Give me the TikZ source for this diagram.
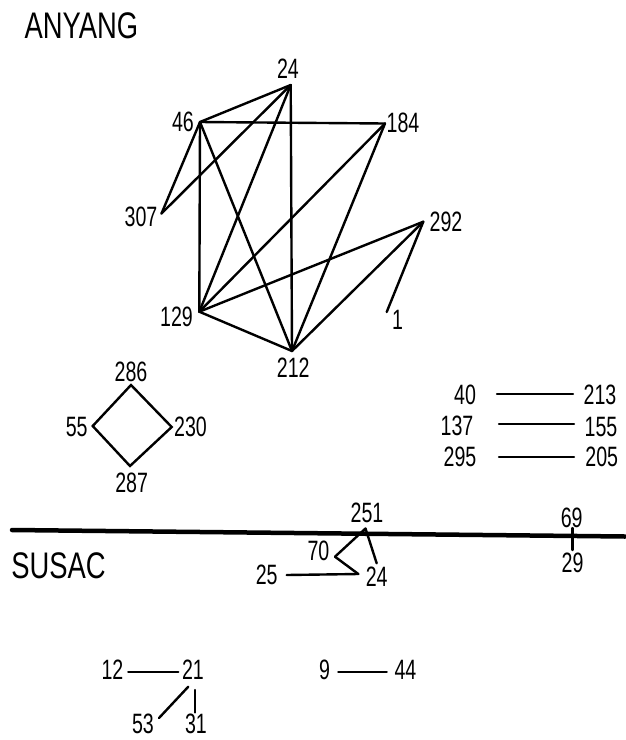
\documentclass[tikz,border=0pt]{standalone}
\usepackage{fontspec}
\setmainfont{Liberation Sans}
\newfontfamily\numf{Liberation Sans}[FakeStretch=0.70]
\newfontfamily\titf{Liberation Sans}[FakeStretch=0.74]
\begin{document}
\begin{tikzpicture}[x=1pt,y=-1pt,
  lab/.style={inner sep=0pt, font=\numf\fontsize{28}{28}\selectfont},
  ttl/.style={inner sep=0pt, font=\titf\fontsize{37}{37}\selectfont},
  edge/.style={line width=2.4pt, line cap=round, line join=round},
  sep/.style={line width=4.5pt, line cap=round}
]
\useasboundingbox (0,0) rectangle (625,740);

% titles
\node[ttl] (anyang) at (81.5,26) {ANYANG};
\node[ttl] (susac) at (58.5,566) {SUSAC};

% ---------- ANYANG main graph ----------
\coordinate (p24) at (290.7,85);
\coordinate (p46) at (200,122);
\coordinate (p184) at (385,123.5);
\coordinate (p307) at (161.5,213.5);
\coordinate (p292) at (423.3,221.7);
\coordinate (p129) at (199.3,311.7);
\coordinate (p212) at (292,351);
\coordinate (p1) at (386.7,312);

\node[lab] (l24) at (288,69) {24};
\node[lab] (l46) at (183,122) {46};
\node[lab] (l184) at (403,123) {184};
\node[lab] (l307) at (141,217) {307};
\node[lab] (l292) at (446,222) {292};
\node[lab] (l129) at (176.5,316.5) {129};
\node[lab] (l212) at (293.3,368) {212};
\node[lab] (l1) at (397.5,320) {1};

\draw[edge] (p24) -- (p46);
\draw[edge] (p24) -- (p307);
\draw[edge] (p24) -- (p129);
\draw[edge] (p24) -- (p212);
\draw[edge] (p46) -- (p184);
\draw[edge] (p46) -- (p307);
\draw[edge] (p46) -- (p129);
\draw[edge] (p46) -- (p212);
\draw[edge] (p184) -- (p129);
\draw[edge] (p184) -- (p212);
\draw[edge] (p292) -- (p129);
\draw[edge] (p292) -- (p212);
\draw[edge] (p292) -- (p1);
\draw[edge] (p129) -- (p212);

% ---------- diamond ----------
\coordinate (d286) at (131,385);
\coordinate (d230) at (171.7,427);
\coordinate (d287) at (130,466);
\coordinate (d55) at (92.7,426);
\node[lab] (l286) at (131,371.5) {286};
\node[lab] (l230) at (190.5,427) {230};
\node[lab] (l287) at (131.7,483) {287};
\node[lab] (l55) at (76.7,427) {55};
\draw[edge, line join=miter] (d286) -- (d230) -- (d287) -- (d55) -- cycle;

% ---------- pairs ----------
\node[lab] (l40) at (465,395) {40};
\node[lab] (l213) at (600,395) {213};
\node[lab] (l137) at (457,426) {137};
\node[lab] (l155) at (601,427) {155};
\node[lab] (l295) at (460,456.7) {295};
\node[lab] (l205) at (601.7,457) {205};
\coordinate (a1) at (497,394);  \coordinate (b1) at (573,394);
\coordinate (a2) at (499,424);  \coordinate (b2) at (574,424);
\coordinate (a3) at (499,457);  \coordinate (b3) at (574,457);
\draw[edge] (a1) -- (b1);
\draw[edge] (a2) -- (b2);
\draw[edge] (a3) -- (b3);

% ---------- separator ----------
\coordinate (sL) at (12,530);
\coordinate (sR) at (625,536.5);
\draw[sep] (sL) -- (sR);

% ---------- SUSAC ----------
\node[lab] (l251) at (367,513) {251};
\node[lab] (l70) at (318.5,551) {70};
\node[lab] (l24s) at (376.7,577) {24};
\node[lab] (l25) at (266.7,575) {25};
\coordinate (q251) at (365.5,528.5);
\coordinate (q70) at (335,556.7);
\coordinate (q24a) at (376.7,563.3);
\coordinate (q24b) at (358.3,574);
\coordinate (q25) at (286.7,575);
\draw[edge] (q251) -- (q70);
\draw[edge] (q251) -- (q24a);
\draw[edge] (q70) -- (q24b);
\draw[edge] (q25) -- (q24b);

\node[lab] (l69) at (571.7,518) {69};
\node[lab] (l29) at (572.5,563) {29};
\coordinate (t69) at (572.5,528);
\coordinate (t29) at (572.5,550);
\draw[edge] (t69) -- (t29);

% ---------- bottom ----------
\node[lab] (l12) at (112.5,670) {12};
\node[lab] (l21) at (193,670) {21};
\node[lab] (l53) at (143,724) {53};
\node[lab] (l31) at (196,724) {31};
\coordinate (c12) at (128.3,671.7);
\coordinate (c21a) at (178.3,671.7);
\coordinate (c21b) at (188.3,686.7);
\coordinate (c53) at (159,718);
\coordinate (c21c) at (195,690);
\coordinate (c31) at (195,712.5);
\draw[edge] (c12) -- (c21a);
\draw[edge] (c21b) -- (c53);
\draw[edge] (c21c) -- (c31);

\node[lab] (l9) at (324.5,670) {9};
\node[lab] (l44) at (405.5,670) {44};
\coordinate (c9) at (338.3,671.7);
\coordinate (c44) at (386.7,671.7);
\draw[edge] (c9) -- (c44);
\end{tikzpicture}
\end{document}
